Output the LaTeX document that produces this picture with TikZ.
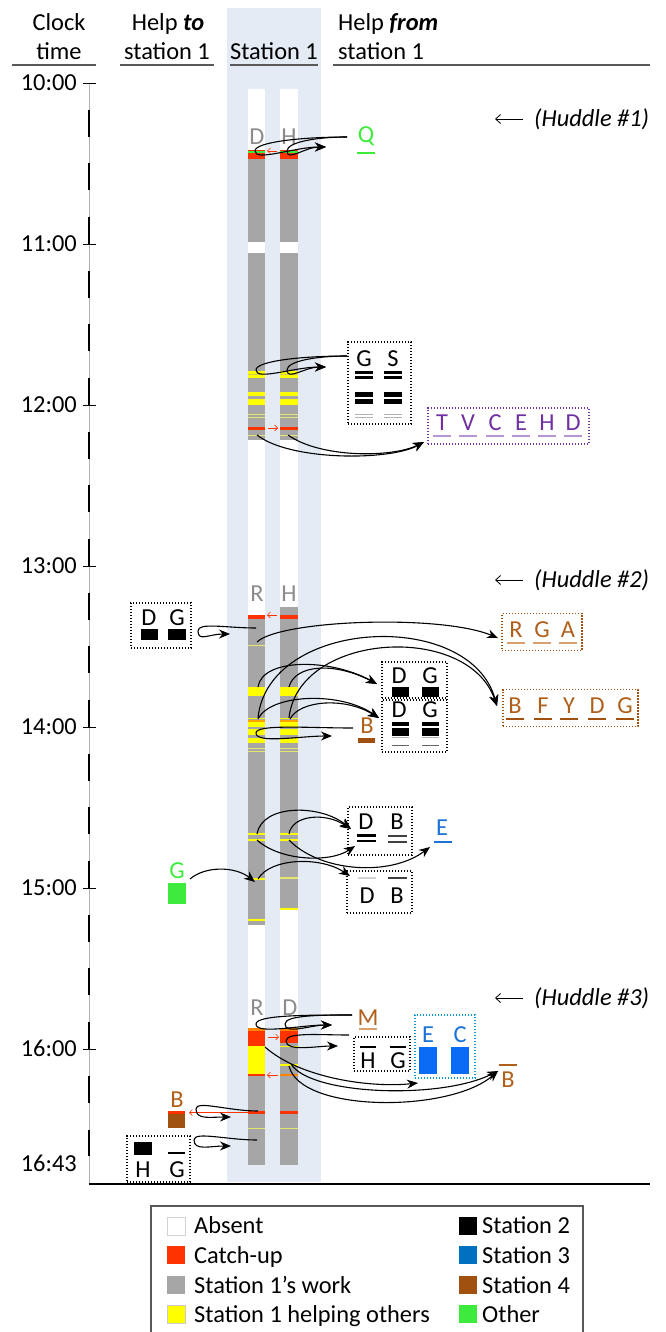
\documentclass[tikz,border=0pt]{standalone}
\usepackage{fontspec}
\setmainfont{Carlito}
\usetikzlibrary{arrows.meta}
\definecolor{stationbg}{HTML}{E4EBF5}
\definecolor{catchup}{HTML}{FF3300}
\definecolor{workgray}{HTML}{A6A6A6}
\definecolor{helpyel}{HTML}{FFFF00}
\definecolor{paleyel}{HTML}{E6E66E}
\definecolor{stthree}{HTML}{0070C0}
\definecolor{stthreeb}{HTML}{0A6CF5}
\definecolor{stthreet}{HTML}{1A72D6}
\definecolor{stfour}{HTML}{A0500F}
\definecolor{stfourt}{HTML}{B0601A}
\definecolor{stfourl}{HTML}{D9A070}
\definecolor{othergreen}{HTML}{3CEB3C}
\definecolor{barlabel}{HTML}{8C8C8C}
\definecolor{purp}{HTML}{7030A0}
\definecolor{purpl}{HTML}{B896D6}
\definecolor{rulegray}{HTML}{595959}

\tikzset{
  txt/.style={font=\fontsize{24.4}{29}\selectfont, inner sep=0pt},
  L/.style={txt, anchor=base},
  barlbl/.style={L, text=barlabel},
  dbox/.style={draw, line width=1.1pt, dash pattern=on 1.4pt off 1.6pt},
  arr/.style={line width=1.1pt, -{Stealth[length=11pt,width=9pt]}},
  redtip/.style={catchup, line width=0.6pt, -{Straight Barb[length=3pt,width=6pt]}},
  hdrrule/.style={rulegray, line width=1.4pt},
  swatch/.style={minimum size=18pt, inner sep=0pt},
}
% looping connector: start, leftmost turning point, arrow end, horizontal pull
\newcommand\looparc[4]{\draw[arr] (#1) .. controls +(-#4,0) and +(0,-9) .. (#2) .. controls +(0,11) and +(-#4*0.7,0) .. (#3);}
\newcommand\bothbars[3]{\fill[#1] (248,#2) rectangle (265,#3); \fill[#1] (280,#2) rectangle (298,#3);}
\newcommand\leftbar[3]{\fill[#1] (248,#2) rectangle (265,#3);}
\newcommand\rightbar[3]{\fill[#1] (280,#2) rectangle (298,#3);}

\begin{document}
\begin{tikzpicture}[x=1pt,y=-1pt]
\useasboundingbox (0,0) rectangle (665,1332);

% ---------- column headers ----------
\fill[stationbg] (227,8) rectangle (321,1182);
\node[L] (hclock) at (59,31) {Clock};
\node[L] (htime) at (59,60) {time};
\draw[hdrrule] (12,65) -- (96,65);
\node[L] (hto1) at (168,31) {Help \textbf{\textit{to}}};
\node[L] (hto2) at (167,60) {station 1};
\draw[hdrrule] (120,65) -- (214,65);
\node[L] (hst) at (274,60) {Station 1};
\draw[hdrrule] (230,65) -- (318,65);
\node[txt, anchor=base west] (hfrom1) at (338,31) {Help \textbf{\textit{from}}};
\node[txt, anchor=base west] (hfrom2) at (338,60) {station 1};
\draw[hdrrule] (333,65) -- (650,65);

% ---------- time axis ----------
\draw[gray!60, line width=0.8pt] (89,83) -- (89,1184);
\draw[line width=1.4pt, dash pattern=on 26.833pt off 26.833pt, dash phase=26.833pt] (89,83) -- (89,1156.3);
\foreach \t/\lab in {0/10:00,1/11:00,2/12:00,3/13:00,4/14:00,5/15:00,6/16:00}{
  \draw[line width=0.9pt] (83,83+161*\t) -- (96,83+161*\t);
  \node[txt, anchor=base east] (tm\t) at (77,90.5+161*\t) {\lab};
}
\node[txt, anchor=base east] (tmend) at (77,1171) {16:43};
\draw[line width=1.2pt] (89,1184) -- (650,1184);

% ---------- station 1 bars ----------
\fill[white] (248,89) rectangle (265,1165);
\fill[white] (280,89) rectangle (298,1165);
% morning
\bothbars{workgray}{159}{242}
\bothbars{workgray}{253}{440}
\bothbars{catchup}{150}{159}
\bothbars{othergreen}{151.5}{153}
\bothbars{helpyel}{371}{378}
\bothbars{yellow!60!gray}{374.2}{375}
\bothbars{helpyel}{392}{396}
\bothbars{helpyel}{398.5}{405}
\bothbars{paleyel}{413.5}{414.5}
\bothbars{paleyel}{416.5}{417.5}
\bothbars{catchup}{427}{429.5}
\bothbars{paleyel}{434.5}{435.5}
% early afternoon
\leftbar{workgray}{619}{925}
\rightbar{workgray}{607}{910}
\bothbars{catchup}{614.5}{619}
\leftbar{paleyel}{644.5}{645.5}
\bothbars{helpyel}{687}{696}
\bothbars{helpyel}{717.5}{719}
\bothbars{catchup!45!yellow}{719.5}{721.5}
\bothbars{helpyel}{722}{727}
\bothbars{helpyel}{729}{735}
\bothbars{helpyel}{737.5}{743}
\bothbars{paleyel}{747.5}{748.5}
\bothbars{paleyel}{750.5}{751.5}
\bothbars{helpyel}{833}{835}
\bothbars{helpyel}{839}{841}
\leftbar{helpyel}{878}{880}
\rightbar{paleyel}{877}{878.5}
\rightbar{helpyel}{908}{910}
\leftbar{helpyel}{919}{921}
% late afternoon
\leftbar{workgray}{1075}{1165}
\rightbar{workgray}{1043}{1165}
\leftbar{catchup}{1028}{1046}
\rightbar{catchup}{1028}{1043}
\bothbars{catchup!60!yellow}{1028}{1030.5}
\leftbar{helpyel}{1046}{1074}
\leftbar{catchup}{1073.5}{1075.5}
\rightbar{catchup!60!yellow}{1074}{1075.5}
\rightbar{helpyel}{1045.5}{1047}
\rightbar{helpyel}{1064}{1066}
\bothbars{catchup}{1111}{1114}
\bothbars{paleyel}{1127.5}{1128.5}

% catch-up hand-overs between the two bars
\coordinate (r1a) at (277,151); \coordinate (r1b) at (267,151);
\coordinate (r2a) at (268,428); \coordinate (r2b) at (278,428);
\coordinate (r3a) at (277,615); \coordinate (r3b) at (267,615);
\coordinate (r4a) at (268,1037); \coordinate (r4b) at (279,1037);
\coordinate (r5a) at (278,1075); \coordinate (r5b) at (267,1075);
\draw[redtip] (r1a) -- (r1b);
\draw[redtip] (r2a) -- (r2b);
\draw[redtip] (r3a) -- (r3b);
\draw[redtip] (r4a) -- (r4b);
\draw[redtip] (r5a) -- (r5b);

% bar labels
\node[barlbl] (bD1) at (257,145) {D};
\node[barlbl] (bH1) at (289,145) {H};
\node[barlbl] (bR2) at (257,601) {R};
\node[barlbl] (bH2) at (289,601) {H};
\node[barlbl] (bR3) at (257,1015) {R};
\node[barlbl] (bD3) at (290,1015) {D};

% ---------- huddles ----------
\foreach \i/\y in {1/119,2/580,3/998}{
  \coordinate (hu\i a) at (523,\y); \coordinate (hu\i b) at (495,\y);
  \draw[line width=0.8pt, -{Straight Barb[length=5pt,width=9pt]}] (hu\i a) -- (hu\i b);
  \node[txt, anchor=base west] (hud\i) at (534,\y+7.5) {\textit{(Huddle \#\i)}};
}

% ---------- 10:25 ----------
\node[L, text=othergreen] (q) at (366,143) {Q};
\draw[othergreen, line width=2.5pt] (357,153) -- (375,153);
\coordinate (qS) at (347,137);
\coordinate (qT1) at (255,151);
\coordinate (qT2) at (287,151);
\coordinate (qE) at (326,147);
\looparc{qS}{qT1}{qE}{45}
\looparc{qS}{qT2}{qE}{30}

% ---------- 11:50 ----------
\node[dbox, minimum width=63pt, minimum height=82pt] (gs) at (379.5,383) {};
\node[L] (gsG) at (364,366) {G};
\node[L] (gsS) at (393,366) {S};
\foreach \x in {355,384}{
  \fill (\x,371) rectangle (\x+18,374);
  \fill (\x,376) rectangle (\x+18,379);
  \fill (\x,392) rectangle (\x+18,397);
  \fill (\x,398.5) rectangle (\x+18,403.5);
  \draw[gray!60, line width=0.9pt] (\x,414.5) -- (\x+18,414.5);
  \draw[gray!60, line width=0.9pt] (\x,417) -- (\x+18,417);
}
\coordinate (gsS1) at (347,356);
\coordinate (gsT1) at (256,370);
\coordinate (gsT2) at (287,370);
\coordinate (gsE) at (326,367);
\looparc{gsS1}{gsT1}{gsE}{45}
\looparc{gsS1}{gsT2}{gsE}{30}

\node[dbox, draw=purp, minimum width=161pt, minimum height=36pt] (pbox) at (508.5,426) {};
\foreach \l/\x in {T/442,V/468,C/495,E/521,H/547,D/573}{
  \node[L, text=purp] (p\l) at (\x,430) {\l};
  \draw[purpl, line width=1.5pt] (\x-9,436) -- (\x+9,436);
}
\coordinate (pa1) at (257,435);
\coordinate (pa2) at (288,435);
\coordinate (pE) at (424,442);
\draw[arr] (pa1) .. controls (290,461) and (390,461) .. (pE);
\draw[arr] (pa2) .. controls (320,458) and (392,458) .. (pE);

% ---------- 13:15 - 14:10 ----------
\node[dbox, minimum width=60pt, minimum height=45pt] (dg0) at (161,625.5) {};
\node[L] (dg0D) at (149,625) {D};
\node[L] (dg0G) at (177,625) {G};
\fill (141,629) rectangle (158,640);
\fill (168,629) rectangle (186,640);
\coordinate (dg0S) at (256,628);
\coordinate (dg0T) at (198,631);
\coordinate (dg0E) at (230,634);
\looparc{dg0S}{dg0T}{dg0E}{30}

\node[dbox, draw=stfour, minimum width=80pt, minimum height=37pt] (rga) at (542,632) {};
\foreach \l/\x in {R/516,G/542,A/568}{
  \node[L, text=stfourt] (rga\l) at (\x,637) {\l};
  \draw[stfourl, line width=1.5pt] (\x-9,643) -- (\x+9,643);
}
\node[dbox, draw=stfour, minimum width=135pt, minimum height=37pt] (bfy) at (570.5,708) {};
\foreach \l/\x in {B/515,F/543,Y/569,D/597,G/625}{
  \node[L, text=stfourt] (bfy\l) at (\x,713) {\l};
  \draw[stfour, line width=2pt] (\x-9,718.5) -- (\x+9,718.5);
}
\coordinate (rgS) at (257,642);
\coordinate (rgE) at (498,638);
\draw[arr] (rgS) .. controls (280,620) and (440,614) .. (rgE);
\coordinate (bfS1) at (258,718);
\coordinate (bfS2) at (289,718);
\coordinate (bfE) at (497,706);
\draw[arr] (bfS1) .. controls (268,618) and (470,608) .. (bfE);
\draw[arr] (bfS2) .. controls (298,632) and (468,622) .. (bfE);

\node[dbox, minimum width=65pt, minimum height=36pt] (dg1) at (414.5,680) {};
\node[L] (dg1D) at (399,683) {D};
\node[L] (dg1G) at (430,683) {G};
\fill (392,687) rectangle (409,697);
\fill (422,687) rectangle (439,697);
\node[dbox, minimum width=65pt, minimum height=52pt] (dg2) at (414.5,726) {};
\node[L] (dg2D) at (399,717) {D};
\node[L] (dg2G) at (430,717) {G};
\foreach \x in {392,422}{
  \fill (\x,722) rectangle (\x+17,725.5);
  \fill (\x,728) rectangle (\x+17,736);
  \draw[gray!60, line width=0.8pt] (\x,737) -- (\x+17,737);
  \draw[gray!80!black, line width=1pt] (\x,745) -- (\x+17,745);
}
\coordinate (d1S1) at (258,687);
\coordinate (d1S2) at (289,687);
\coordinate (d1E) at (377,684);
\draw[arr] (d1S1) .. controls (262,658) and (330,658) .. (d1E);
\draw[arr] (d1S2) .. controls (295,664) and (335,662) .. (d1E);
\coordinate (d2S1) at (258,719);
\coordinate (d2S2) at (290,719);
\coordinate (d2E) at (379,718);
\draw[arr] (d2S1) .. controls (270,694) and (340,691) .. (d2E);
\draw[arr] (d2S2) .. controls (300,700) and (345,697) .. (d2E);

\node[L, text=stfourt] (b1) at (367,733) {B};
\fill[stfour] (358,738) rectangle (375,743);
\coordinate (b1S) at (353,728);
\coordinate (b1T) at (256,733);
\coordinate (b1E) at (332,736);
\looparc{b1S}{b1T}{b1E}{45}

% ---------- 14:40 - 15:05 ----------
\node[dbox, minimum width=64pt, minimum height=48pt] (db1) at (380,831) {};
\node[L] (db1D) at (366,829) {D};
\node[L] (db1B) at (397,829) {B};
\fill (357,834) rectangle (376,836.5);
\fill (357,839.5) rectangle (376,842);
\draw[black!75, line width=1.4pt] (388,836) -- (407,836);
\draw[black!75, line width=1.4pt] (388,842) -- (407,842);
\node[dbox, minimum width=65pt, minimum height=42pt] (db2) at (379.5,892) {};
\draw[gray!35, line width=2pt] (358,878) -- (376,878);
\draw[black!75, line width=2.5pt] (388,878) -- (407,878);
\node[L] (db2D) at (367,903) {D};
\node[L] (db2B) at (397,903) {B};
\node[L, text=stthreet] (e1) at (442,835) {E};
\draw[stthreet, line width=2pt] (434,842) -- (452,842);
\node[L, text=othergreen] (g1) at (177,878) {G};
\fill[othergreen] (168,883) rectangle (186,904);

\coordinate (u1S1) at (257,834);
\coordinate (u1S2) at (289,834);
\coordinate (u1E) at (351,829);
\draw[arr] (u1S1) .. controls (262,804) and (320,804) .. (u1E);
\draw[arr] (u1S2) .. controls (292,815) and (325,812) .. (u1E);
\coordinate (u2S) at (257,840);
\coordinate (u2E) at (355,846);
\draw[arr] (u2S) .. controls (280,861) and (330,863) .. (u2E);
\coordinate (eS) at (289,840);
\coordinate (eE) at (430,847);
\draw[arr] (eS) .. controls (320,872) and (390,877) .. (eE);
\coordinate (gS) at (190,879);
\coordinate (gE) at (255,882);
\draw[arr] (gS) .. controls (205,866) and (235,866) .. (gE);
\coordinate (lS) at (258,879);
\coordinate (lE) at (350,876);
\draw[arr] (lS) .. controls (270,858) and (320,856) .. (lE);

% ---------- 15:50 - 16:43 ----------
\node[L, text=stfourt] (m) at (368,1025) {M};
\draw[stfourl, line width=2pt] (359,1029) -- (377,1029);
\coordinate (mS) at (352,1015);
\coordinate (mT1) at (256,1024);
\coordinate (mT2) at (285,1024);
\coordinate (mE) at (332,1025);
\looparc{mS}{mT1}{mE}{45}
\looparc{mS}{mT2}{mE}{30}

\node[dbox, minimum width=56pt, minimum height=34pt] (hg1) at (382,1054) {};
\draw[line width=1.5pt] (360,1047) -- (376,1047);
\draw[line width=1.5pt] (390,1047) -- (406,1047);
\node[L] (hg1H) at (368,1068) {H};
\node[L] (hg1G) at (398,1068) {G};
\coordinate (hgS) at (349,1035);
\coordinate (hgT) at (286,1041);
\coordinate (hgE) at (338,1046);
\looparc{hgS}{hgT}{hgE}{30}

\node[dbox, draw=stthree!70!cyan, minimum width=60pt, minimum height=63pt] (ec) at (445,1046.5) {};
\node[L, text=stthreet] (ecE) at (428,1042) {E};
\node[L, text=stthreet] (ecC) at (460,1042) {C};
\fill[stthreeb] (419,1047) rectangle (437,1074);
\fill[stthreeb] (451,1047) rectangle (469,1074);

\draw[stfourt, line width=1.5pt] (499,1065) -- (517,1065);
\node[L, text=stfourt] (b2) at (508,1087) {B};

\coordinate (ecS) at (265,1047);
\coordinate (ecP) at (418,1083);
\draw[arr] (ecS) .. controls (300,1078) and (370,1088) .. (ecP);
\coordinate (b2S1) at (291,1064);
\coordinate (b2S2) at (289,1066);
\coordinate (b2E) at (498,1071);
\draw[arr] (b2S1) .. controls (310,1095) and (440,1100) .. (b2E);
\draw[arr] (b2S2) .. controls (300,1113) and (450,1113) .. (b2E);

\node[L, text=stfourt] (b3) at (177,1107) {B};
\fill[stfour] (168,1111) rectangle (185,1128);
\fill[catchup] (168,1111) rectangle (185,1114);
\coordinate (b3a) at (248,1112.5);
\coordinate (b3b) at (189,1112.5);
\draw[redtip] (b3a) -- (b3b);
\coordinate (b3S) at (258,1111);
\coordinate (b3T) at (196,1109);
\coordinate (b3E) at (231,1117);
\looparc{b3S}{b3T}{b3E}{30}

\node[dbox, minimum width=63pt, minimum height=46pt] (hg2) at (158.5,1159) {};
\fill (134,1142) rectangle (152,1155);
\draw[line width=1.5pt] (168,1153) -- (185,1153);
\node[L] (hg2H) at (143,1177) {H};
\node[L] (hg2G) at (177,1177) {G};
\coordinate (h2S) at (257,1140);
\coordinate (h2T) at (194,1140);
\coordinate (h2E) at (231,1146);
\looparc{h2S}{h2T}{h2E}{30}

% ---------- legend ----------
\draw[gray!70!black, line width=1.2pt] (151,1345) -- (151,1206) -- (583,1206) -- (583,1345);
\node[swatch, fill=white, draw=gray!35, line width=0.6pt] (lg1) at (176,1226) {};
\node[swatch, fill=catchup] (lg2) at (176,1255) {};
\node[swatch, fill=workgray] (lg3) at (176,1285) {};
\node[swatch, fill=helpyel, draw=gray!40, line width=0.4pt] (lg4) at (176,1314) {};
\node[txt, anchor=base west] (lt1) at (194,1233) {Absent};
\node[txt, anchor=base west] (lt2) at (194,1263) {Catch-up};
\node[txt, anchor=base west] (lt3) at (194,1293) {Station 1's work};
\node[txt, anchor=base west] (lt4) at (194,1322) {Station 1 helping others};
\node[swatch, fill=black] (lg5) at (468,1226) {};
\node[swatch, fill=stthree] (lg6) at (468,1255) {};
\node[swatch, fill=stfour] (lg7) at (468,1285) {};
\node[swatch, fill=othergreen] (lg8) at (468,1314) {};
\node[txt, anchor=base west] (lt5) at (482,1233) {Station 2};
\node[txt, anchor=base west] (lt6) at (482,1263) {Station 3};
\node[txt, anchor=base west] (lt7) at (482,1293) {Station 4};
\node[txt, anchor=base west] (lt8) at (482,1322) {Other};
\end{tikzpicture}
\end{document}
